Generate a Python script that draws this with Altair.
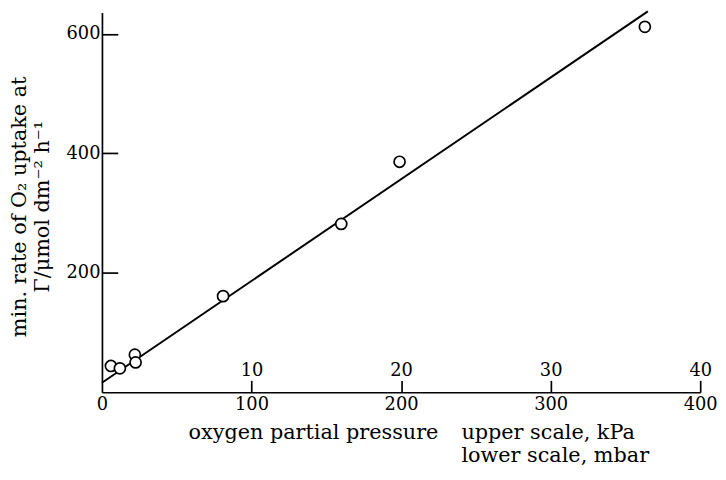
import altair as alt
import pandas as pd

# measured points: oxygen partial pressure (mbar) vs min. uptake rate
pressure_mbar = [6, 12, 22, 22.5, 81, 160, 199, 363]
uptake_rate = [44, 40, 63, 50, 161, 282, 386, 612]

# fitted straight line (end points)
fit_mbar = [0, 365]
fit_rate = [16, 638]

lower_ticks = [0, 100, 200, 300, 400]      # mbar
upper_ticks = [100, 200, 300, 400]         # shown as 10..40 kPa
y_ticks = [200, 400, 600]

FONT = "DejaVu Serif"
W, H = 605, 384

pts_df = pd.DataFrame({"x": pressure_mbar, "y": uptake_rate})
fit_df = pd.DataFrame({"x": fit_mbar, "y": fit_rate})

xs = alt.Scale(domain=[0, 400], nice=False, zero=False)
ys = alt.Scale(domain=[0, 636], nice=False, zero=False)

common = dict(grid=False, labelFont=FONT, labelColor="black", titleFont=FONT,
              titleColor="black", titleFontWeight="normal", labelOverlap=False,
              labelBound=False, labelFlush=False)

bottom_axis = alt.Axis(orient="bottom", values=lower_ticks, ticks=False, tickSize=0,
                       labelPadding=3, labelFontSize=18, domainColor="black", domainWidth=1.7,
                       title="oxygen partial pressure", titleFontSize=21,
                       titleAlign="left", titleBaseline="alphabetic", titleX=87, titleY=47,
                       **common)

top_axis = alt.Axis(orient="top", offset=-H, values=upper_ticks,
                    labelExpr="datum.value / 10", domain=False, ticks=True, tickSize=12,
                    tickWidth=1.7, tickColor="black", labelPadding=1, labelFontSize=18,
                    title=["upper scale, kPa", "lower scale, mbar"], titleFontSize=21,
                    titleAlign="left", titleBaseline="alphabetic", titleX=363, titleY=47,
                    titleLineHeight=23, **common)

left_axis = alt.Axis(orient="left", values=y_ticks, ticks=False, tickSize=0, labelPadding=2,
                     labelFontSize=18, domainColor="black", domainWidth=1.7,
                     title=["min. rate of O\u2082 uptake at", "\u0393/\u03bcmol dm\u207b\u00b2 h\u207b\u00b9"],
                     titleFontSize=21, titleAngle=270, titleAlign="center", titleBaseline="middle",
                     titleX=-83, titleY=196, titleLineHeight=23, **common)

right_axis = alt.Axis(orient="right", offset=-W, values=y_ticks, labels=False, domain=False,
                      ticks=True, tickSize=16, tickWidth=1.7, tickColor="black", title="",
                      grid=False)

line = alt.Chart(fit_df).mark_line(color="black", strokeWidth=2).encode(
    x=alt.X("x:Q", scale=xs, axis=bottom_axis),
    y=alt.Y("y:Q", scale=ys, axis=left_axis),
)

pts = alt.Chart(pts_df).mark_point(shape="circle", size=125, filled=True, fill="white",
                                   stroke="black", strokeWidth=1.7, opacity=1).encode(
    x=alt.X("x:Q", scale=xs, axis=top_axis),
    y=alt.Y("y:Q", scale=ys, axis=right_axis),
)

chart = alt.layer(line, pts).resolve_axis(x="independent", y="independent").properties(
    width=W, height=H,
    autosize=alt.AutoSizeParams(type="none"),
    padding={"left": 95, "top": 2, "right": 18, "bottom": 72},
).configure_view(stroke=None)

chart.save("out.html", embed_options={"renderer": "svg", "actions": False})
